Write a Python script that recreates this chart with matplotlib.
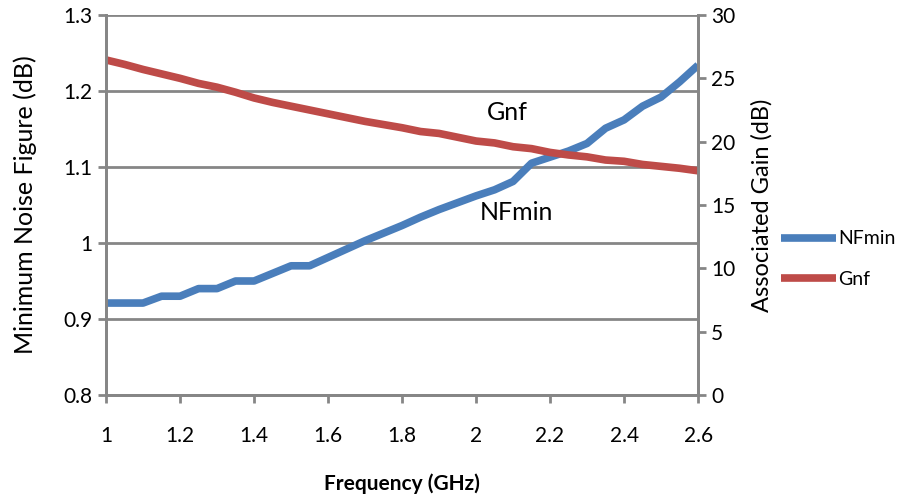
# NFmin and associated gain versus frequency, two y axes

import matplotlib
matplotlib.use('Agg')
import matplotlib.pyplot as plt

freq = [1.0, 1.05, 1.1, 1.15, 1.2, 1.25, 1.3, 1.35, 1.4, 1.45, 1.5, 1.55,
        1.6, 1.65, 1.7, 1.75, 1.8, 1.85, 1.9, 1.95, 2.0, 2.05, 2.1, 2.15,
        2.2, 2.25, 2.3, 2.35, 2.4, 2.45, 2.5, 2.55, 2.6]
nfmin = [0.921, 0.921, 0.921, 0.930, 0.930, 0.940, 0.940, 0.950, 0.950,
         0.960, 0.970, 0.970, 0.981, 0.992, 1.003, 1.013, 1.023, 1.034,
         1.044, 1.053, 1.062, 1.070, 1.081, 1.105, 1.113, 1.121, 1.131,
         1.151, 1.162, 1.180, 1.192, 1.212, 1.234]
gnf = [26.45, 26.1, 25.7, 25.35, 25.0, 24.6, 24.3, 23.9, 23.45, 23.1, 22.8,
       22.5, 22.2, 21.9, 21.6, 21.35, 21.1, 20.8, 20.65, 20.35, 20.05, 19.9,
       19.6, 19.45, 19.15, 18.95, 18.8, 18.55, 18.45, 18.2, 18.05, 17.9, 17.7]

plt.rcParams['font.family'] = ['Lato', 'DejaVu Sans']
grey = '#868686'
blue = '#4A7EBB'
red = '#BE4B48'

fig = plt.figure(figsize=(9.04, 5.03), dpi=100)
ax = fig.add_axes([0.1173, 0.2147, 0.6549, 0.7555])
ax2 = ax.twinx()

l1, = ax.plot(freq, nfmin, color=blue, lw=5.5, solid_capstyle='butt')
l2, = ax2.plot(freq, gnf, color=red, lw=5.5, solid_capstyle='butt')

ax.set_xlim(1, 2.6)
ax.set_ylim(0.8, 1.3)
ax2.set_ylim(0, 30)
ax.set_xticks([1, 1.2, 1.4, 1.6, 1.8, 2, 2.2, 2.4, 2.6])
ax.set_xticklabels(['1', '1.2', '1.4', '1.6', '1.8', '2', '2.2', '2.4', '2.6'])
ax.set_yticks([0.8, 0.9, 1.0, 1.1, 1.2, 1.3])
ax.set_yticklabels(['0.8', '0.9', '1', '1.1', '1.2', '1.3'])
ax2.set_yticks([0, 5, 10, 15, 20, 25, 30])

ax.grid(axis='y', color=grey, lw=2)
ax.set_axisbelow(True)
for a in (ax, ax2):
    for s in a.spines.values():
        s.set_color(grey)
        s.set_linewidth(2)
    a.spines['top'].set_visible(False)
    a.tick_params(colors=grey, width=2, length=6, labelsize=15,
                  labelcolor='black')
ax.tick_params(axis='x', pad=16)
ax2.set_zorder(ax.get_zorder() + 1)

ax.set_ylabel('Minimum Noise Figure (dB)', fontsize=18, labelpad=19)
ax2.set_ylabel('Associated Gain (dB)', fontsize=17, labelpad=11)
ax.set_xlabel('Frequency (GHz)', fontsize=15, fontweight='bold', labelpad=20)

ax.text(2.085, 1.172, 'Gnf', fontsize=18, ha='center', va='center')
ax.text(2.11, 1.04, 'NFmin', fontsize=18, ha='center', va='center')

fig.legend([l1, l2], ['NFmin', 'Gnf'], loc='center left',
           bbox_to_anchor=(0.845, 0.485), frameon=False, fontsize=14,
           handlelength=2.8, handletextpad=0.1, labelspacing=1.2)

fig.savefig('out.png', dpi=100)
